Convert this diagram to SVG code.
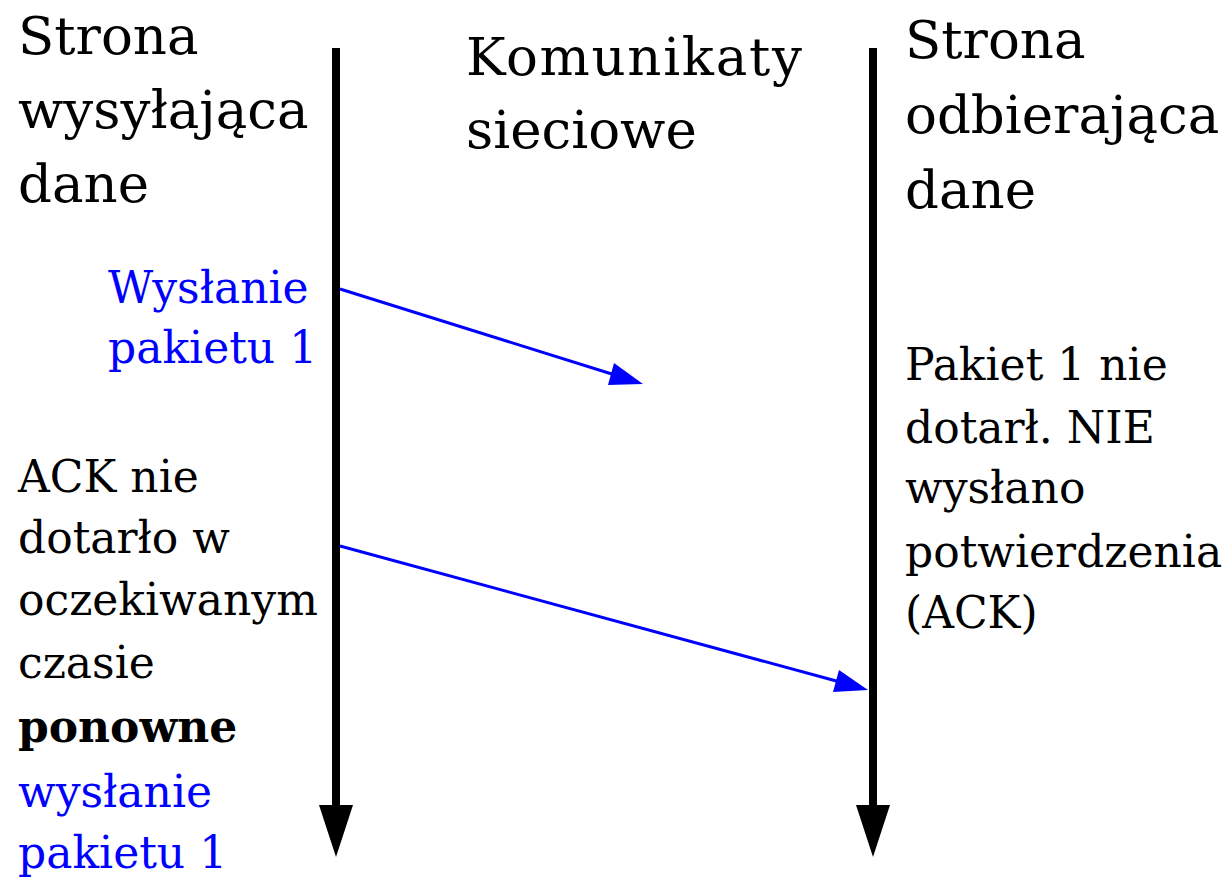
<svg xmlns="http://www.w3.org/2000/svg" width="1223" height="878" viewBox="0 0 1223 878">
  <defs>
    <style>
      text { font-family: "DejaVu Serif", "Liberation Serif", serif; fill: #000; }
      .head { font-size: 53px; }
      .body { font-size: 44px; }
      .blue { fill: #0000ff; }
      .bold { font-weight: bold; }
      .life { stroke: #000; stroke-width: 8; fill: none; }
      .msg { stroke: #0000ff; stroke-width: 3; fill: none; }
    </style>
  </defs>
  <rect width="1223" height="878" fill="#fff"/>

  <!-- lifelines -->
  <g id="lifelines">
    <line class="life" x1="336" y1="48" x2="336" y2="806"/>
    <polygon points="319,805 353,805 336,857" fill="#000"/>
    <line class="life" x1="873" y1="48" x2="873" y2="806"/>
    <polygon points="856,805 890,805 873,857" fill="#000"/>
  </g>

  <!-- messages -->
  <g id="connectors">
    <line class="msg" x1="340" y1="289" x2="615" y2="375"/>
    <polygon points="643,384 608,385 614,363" fill="#0000ff"/>
    <line class="msg" x1="340" y1="546" x2="840" y2="682"/>
    <polygon points="868,690 833,692 839,670" fill="#0000ff"/>
  </g>

  <g id="sender-header">
    <text class="head" x="18" y="54">Strona</text>
    <text class="head" x="18" y="128">wysyłająca</text>
    <text class="head" x="18" y="202">dane</text>
  </g>

  <g id="network-header">
    <text class="head" x="466" y="75" textLength="336">Komunikaty</text>
    <text class="head" x="466" y="148">sieciowe</text>
  </g>

  <g id="receiver-header">
    <text class="head" x="905" y="58">Strona</text>
    <text class="head" x="905" y="133">odbierająca</text>
    <text class="head" x="905" y="208">dane</text>
  </g>

  <g id="send-label">
    <text class="body blue" x="108" y="303">Wysłanie</text>
    <text class="body blue" x="108" y="363">pakietu 1</text>
  </g>

  <g id="timeout-label">
    <text class="body" x="18" y="492">ACK nie</text>
    <text class="body" x="18" y="553">dotarło w</text>
    <text class="body" x="18" y="615">oczekiwanym</text>
    <text class="body" x="18" y="678">czasie</text>
    <text class="body bold" x="18" y="742">ponowne</text>
    <text class="body blue" x="18" y="807">wysłanie</text>
    <text class="body blue" x="18" y="868">pakietu 1</text>
  </g>

  <g id="loss-label">
    <text class="body" x="905" y="380">Pakiet 1 nie</text>
    <text class="body" x="905" y="443">dotarł. NIE</text>
    <text class="body" x="905" y="503">wysłano</text>
    <text class="body" x="905" y="567">potwierdzenia</text>
    <text class="body" x="905" y="628">(ACK)</text>
  </g>
</svg>
